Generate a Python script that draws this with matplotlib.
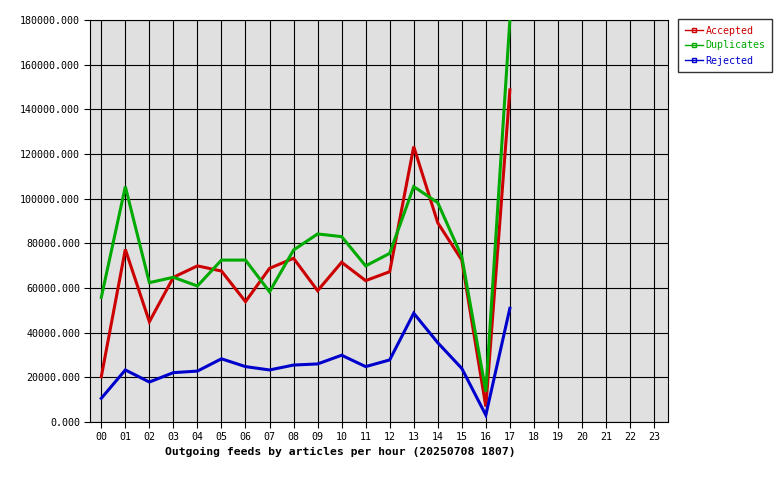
import matplotlib
matplotlib.use("Agg")
import matplotlib.pyplot as plt
from matplotlib.lines import Line2D

hours = ["00","01","02","03","04","05","06","07","08","09","10","11",
         "12","13","14","15","16","17","18","19","20","21","22","23"]
accepted = [20300, 77300, 44900, 64800, 69900, 67600, 53900, 68800, 73300, 58800,
            71500, 63300, 67300, 123300, 89200, 72500, 6900, 148700]
duplicates = [55800, 105400, 62400, 64800, 60900, 72500, 72500, 58300, 77000, 84200,
              83000, 69900, 75500, 105400, 98200, 74000, 13600, 180000]
rejected = [10600, 23300, 17900, 22100, 22800, 28300, 24800, 23300, 25500, 26000,
            29900, 24800, 27800, 48700, 35500, 24000, 3100, 50900]
yticks = [0, 20000, 40000, 60000, 80000, 100000, 120000, 140000, 160000, 180000]
series_names = ["Accepted", "Duplicates", "Rejected"]
colors = ["#cc0000", "#00aa00", "#0000cc"]

mono = "DejaVu Sans Mono"
fig = plt.figure(figsize=(7.8, 4.8), dpi=100)
fig.patch.set_facecolor("white")
ax = fig.add_axes([90/780, 58/480, 578/780, 402/480])
ax.set_facecolor("#e0e0e0")

x = list(range(len(hours)))
for vals, c in zip([accepted, duplicates, rejected], colors):
    ax.plot(x[:len(vals)], vals, color=c, lw=2.2, zorder=3, solid_joinstyle="miter")

ax.set_xlim(-0.47, 23.58)
ax.set_ylim(0, 180000)
ax.set_xticks(x)
ax.set_xticklabels(hours, fontfamily=mono, fontsize=7.2)
ax.set_yticks(yticks)
ax.set_yticklabels([f"{v:.3f}" for v in yticks], fontfamily=mono, fontsize=7.2)
ax.grid(True, color="black", lw=0.8, zorder=1)
ax.set_axisbelow(True)
for s in ax.spines.values():
    s.set_color("black")
    s.set_linewidth(0.8)
ax.tick_params(axis="both", direction="out", length=4, width=0.8, color="black", pad=3)

fig.text(165/780, 1 - 452/480, "Outgoing feeds by articles per hour (20250708 1807)",
         fontfamily=mono, fontsize=8.2, fontweight="bold", ha="left", va="center")

handles = [Line2D([0], [0], color=c, lw=1, marker="s", markersize=3,
                  markerfacecolor="none", markeredgecolor=c) for c in colors]
leg = fig.legend(handles, series_names, loc="upper left",
                 bbox_to_anchor=(678/780, 1 - 19/480), frameon=True, fancybox=False,
                 prop={"family": mono, "size": 7.2}, handlelength=1.8,
                 handletextpad=0.3, borderpad=0.65, labelspacing=0.5, borderaxespad=0)
leg.get_frame().set_edgecolor("black")
leg.get_frame().set_linewidth(1)
for t, c in zip(leg.get_texts(), colors):
    t.set_color(c)

fig.savefig("out.png", dpi=100)
